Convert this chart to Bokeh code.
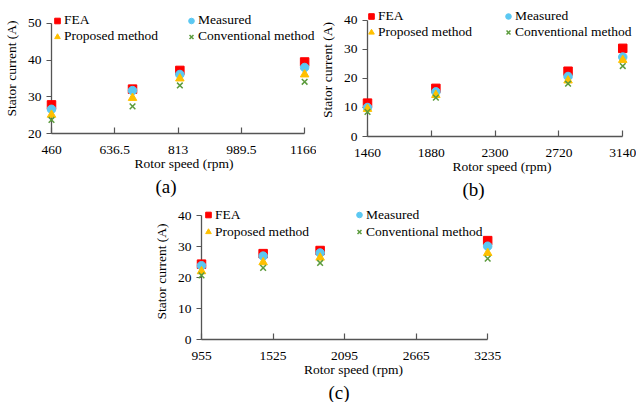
from bokeh.plotting import figure
from bokeh.models import FixedTicker, Legend, LegendItem, Title, Spacer, Range1d
from bokeh.layouts import column, row
from bokeh.embed import file_html
from bokeh.resources import INLINE

# ---------------- data ----------------
series_names = ["FEA", "Measured", "Proposed method", "Conventional method"]

a_speed = [460, 686, 818, 1166]
a_fea = [27.8, 32.1, 37.2, 39.5]
a_meas = [26.6, 31.7, 36.1, 38.0]
a_prop = [25.1, 29.7, 35.0, 36.1]
a_conv = [23.7, 27.4, 33.1, 34.1]
a_xticks = [460, 636.5, 813, 989.5, 1166]
a_xlabels = ["460", "636.5", "813", "989.5", "1166"]
a_yticks = [20, 30, 40, 50]

b_speed = [1460, 1910, 2780, 3140]
b_fea = [11.5, 16.6, 22.5, 30.4]
b_meas = [10.0, 15.4, 20.7, 27.4]
b_prop = [9.5, 14.3, 19.3, 26.4]
b_conv = [8.5, 13.4, 18.2, 24.3]
b_xticks = [1460, 1880, 2300, 2720, 3140]
b_xlabels = ["1460", "1880", "2300", "2720", "3140"]
b_yticks = [0, 10, 20, 30, 40]

c_speed = [955, 1446, 1900, 3235]
c_fea = [24.3, 27.7, 28.7, 31.9]
c_meas = [23.8, 26.9, 27.9, 30.1]
c_prop = [22.0, 24.9, 26.4, 27.9]
c_conv = [20.7, 23.1, 24.7, 26.1]
c_xticks = [955, 1525, 2095, 2665, 3235]
c_xlabels = ["955", "1525", "2095", "2665", "3235"]
c_yticks = [0, 10, 20, 30, 40]

FONT = "Liberation Serif"
FS = "13.5px"
AX = "#555555"
COLORS = ["#FF0000", "#5BC8F2", "#FFC000", "#5B9B3C"]


def panel(width, height, mb_left, mb_right, mb_top, mb_bottom, x_right, y_top,
          speed, ys, xticks, xlabels, yticks, tag, tag_offset, leg1, leg2, pitch):
    lo, hi = xticks[0], xticks[-1]
    ylo, yhi = yticks[0], yticks[-1]
    p = figure(width=width, height=height, output_backend="svg", toolbar_location=None,
               x_range=Range1d(lo, x_right), y_range=Range1d(ylo, y_top),
               min_border_left=mb_left, min_border_right=mb_right,
               min_border_top=mb_top, min_border_bottom=mb_bottom)
    p.outline_line_color = None
    p.grid.visible = False
    p.background_fill_color = "white"
    p.border_fill_color = "white"

    fea, meas, prop, conv = ys
    r1 = p.scatter(speed, fea, marker="square", size=8.5, fill_color=COLORS[0],
                   line_color=COLORS[0], level="overlay")
    r2 = p.scatter(speed, meas, marker="circle", size=8.5, fill_color=COLORS[1],
                   line_color=COLORS[1], level="overlay")
    r3 = p.scatter(speed, prop, marker="triangle", size=8.5, fill_color=COLORS[2],
                   line_color=COLORS[2], level="overlay")
    r4 = p.scatter(speed, conv, marker="x", size=8, line_color=COLORS[3], line_width=1.5,
                   level="overlay")

    xa = p.xaxis[0]
    xa.ticker = FixedTicker(ticks=xticks)
    xa.major_label_overrides = dict(zip(xticks, xlabels))
    xa.bounds = (lo, hi)
    xa.minor_tick_line_color = None
    xa.major_tick_in = 6
    xa.major_tick_out = 0
    xa.axis_label = "Rotor speed (rpm)"
    xa.major_label_standoff = 12
    xa.axis_label_standoff = -1

    ya = p.yaxis[0]
    ya.ticker = FixedTicker(ticks=yticks)
    ya.bounds = (ylo, yhi)
    ya.minor_tick_line_color = None
    ya.major_tick_in = 0
    ya.major_tick_out = 5
    ya.axis_label = "Stator current (A)"
    ya.major_label_standoff = 5
    ya.axis_label_standoff = 6

    for ax in (xa, ya):
        ax.axis_line_color = AX
        ax.axis_line_width = 1.3
        ax.major_tick_line_color = AX
        ax.major_tick_line_width = 1.2
        ax.major_label_text_font = FONT
        ax.major_label_text_font_size = FS
        ax.major_label_text_color = "black"
        ax.axis_label_text_font = FONT
        ax.axis_label_text_font_size = FS
        ax.axis_label_text_font_style = "normal"
        ax.axis_label_text_color = "black"

    def mk_legend(items, loc):
        return Legend(items=items, location=loc, orientation="vertical",
                      glyph_width=14, glyph_height=pitch, spacing=0,
                      label_standoff=0, label_height=pitch, padding=0, margin=0,
                      border_line_color=None, background_fill_alpha=0,
                      label_text_font=FONT, label_text_font_size=FS,
                      label_text_color="black")

    p.add_layout(mk_legend([LegendItem(label=series_names[0], renderers=[r1]),
                            LegendItem(label=series_names[2], renderers=[r3])], leg1))
    p.add_layout(mk_legend([LegendItem(label=series_names[1], renderers=[r2]),
                            LegendItem(label=series_names[3], renderers=[r4])], leg2))

    p.add_layout(Title(text=tag, align="left", offset=tag_offset, text_font=FONT,
                       text_font_size="19px", text_font_style="normal",
                       text_color="black", standoff=0), "below")
    return p


# panel (a): frame x 48..316 (axis to 304), axis y 23..133, frame top 3
pa = panel(316, 200, 48, 0, 3, 67, 1199.1, 55.4545,
           a_speed, (a_fea, a_meas, a_prop, a_conv),
           a_xticks, a_xlabels, a_yticks, "(a)", 104, (-1, 89), (133, 89), 15)

# panel (b): frame x 362..636 (axis to 622), axis y 20..136, frame top 3
pb = panel(320, 203, 46, 0, 3, 67, 3230.5, 45.862,
           b_speed, (b_fea, b_meas, b_prop, b_conv),
           b_xticks, b_xlabels, b_yticks, "(b)", 95, (-3, 96), (134, 96), 16)

# panel (c): starts at y=203; frame x 198..505 (axis to 487), axis y 215..339
pc = panel(360, 199, 48, 5, 0, 59, 3377.0, 43.871,
           c_speed, (c_fea, c_meas, c_prop, c_conv),
           c_xticks, c_xlabels, c_yticks, "(c)", 127, (0, 99), (151, 99), 17)

layout = column(row(pa, pb), row(Spacer(width=150, height=199), pc), spacing=0)

open("out.html", "w").write(file_html(layout, INLINE))
